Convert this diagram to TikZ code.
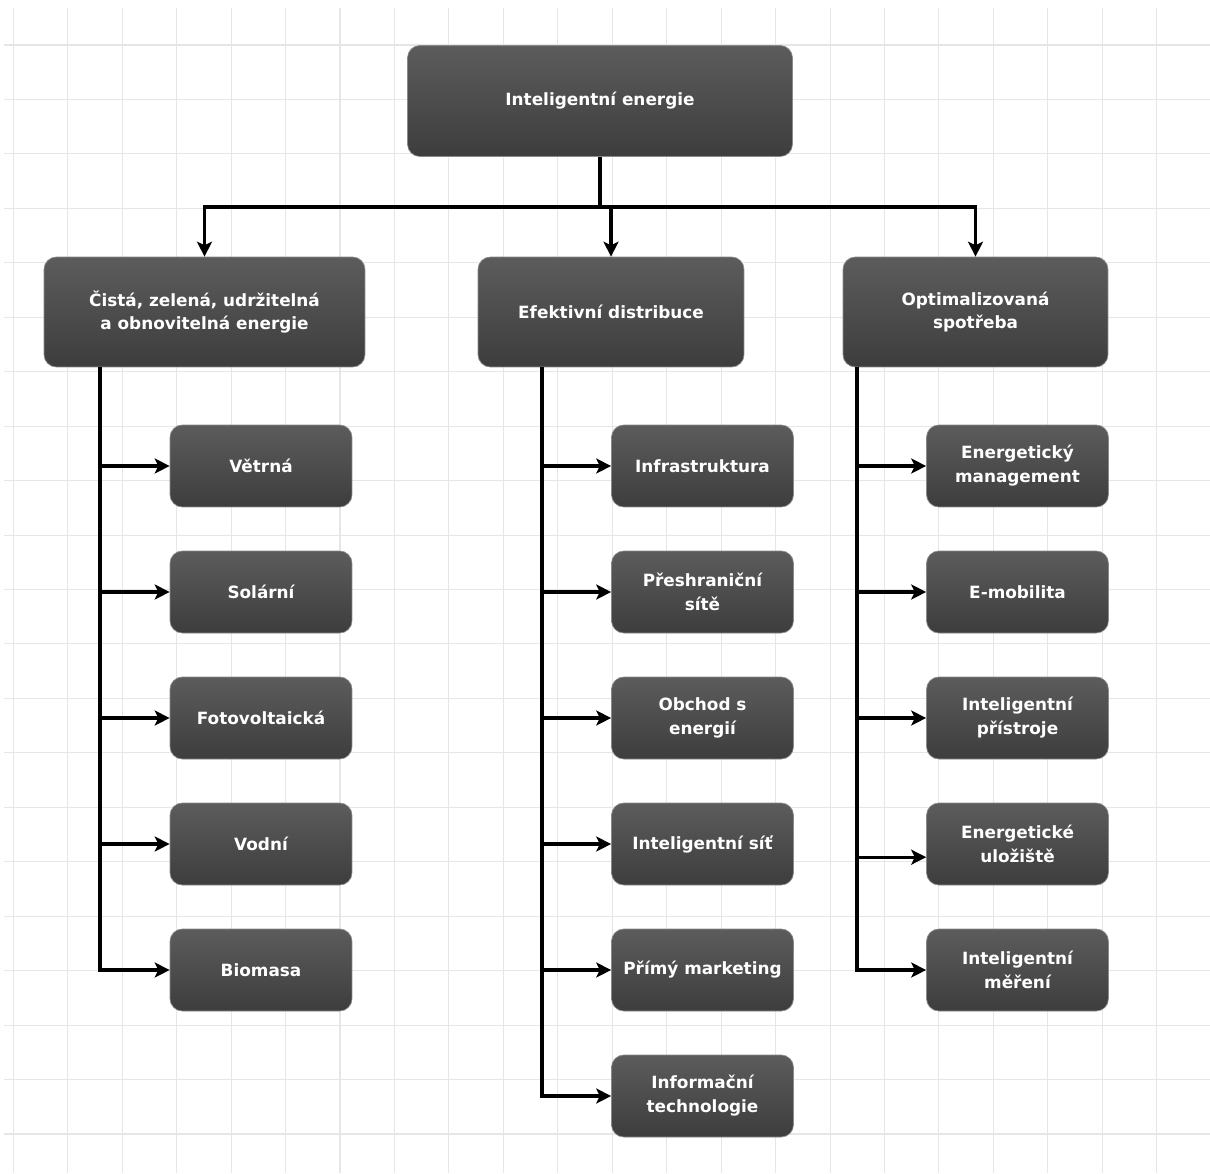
\documentclass[tikz,border=0pt]{standalone}
\usepackage{fontspec}
\setmainfont{DejaVu Sans}
\usetikzlibrary{arrows.meta}
\definecolor{gridc}{HTML}{E6E6E6}
\definecolor{boxtop}{HTML}{5C5C5C}
\definecolor{boxbot}{HTML}{3D3D3D}
\definecolor{boxedge}{HTML}{8A8A8A}
\tikzset{
  box/.style={rectangle, rounded corners=7pt, top color=boxtop, bottom color=boxbot,
    draw=boxedge, line width=0.4pt, text=white, align=center,
    font=\bfseries\fontsize{9.6}{13.6}\selectfont, inner sep=0pt},
  rootbox/.style={box, minimum width=7.7cm, minimum height=2.22cm},
  headbox/.style={box, minimum height=2.2cm},
  leafbox/.style={box, minimum width=3.64cm, minimum height=1.64cm},
  wire/.style={line width=1.8pt, black},
  arr/.style={wire, -{Stealth[length=8.5pt,width=8.5pt,inset=2pt]}},
}
\begin{document}
\begin{tikzpicture}[x=0.02cm, y=-0.02cm]
  % canvas and background grid
  \fill[white] (0,0) rectangle (1210,1173);
  \useasboundingbox (0,0) rectangle (1210,1173);
  \foreach \i in {0,...,21} {
    \draw[gridc, line width=0.6pt] ({13.3+54.45*\i},8) -- ({13.3+54.45*\i},1173);
  }
  \foreach \j in {0,...,20} {
    \draw[gridc, line width=0.6pt] (4,{45+54.45*\j}) -- (1210,{45+54.45*\j});
  }

  % top level
  \node[rootbox] (root) at (600,101) {Inteligentní energie};

  % second level
  \node[headbox, minimum width=6.42cm] (c1) at (204.5,312) {Čistá, zelená, udržitelná\\a obnovitelná energie};
  \node[headbox, minimum width=5.32cm] (c2) at (611,312) {Efektivní distribuce};
  \node[headbox, minimum width=5.3cm] (c3) at (975.5,312) {Optimalizovaná\\spotřeba};

  \coordinate (bus) at (600,207);
  \draw[wire] (root.south) -- (bus);
  \draw[arr] (bus) -| (c1.north);
  \draw[arr] (bus) -| (c2.north);
  \draw[arr] (bus) -| (c3.north);

  % first branch
  \node[leafbox] (a1) at (261,466) {Větrná};
  \node[leafbox] (a2) at (261,592) {Solární};
  \node[leafbox] (a3) at (261,718) {Fotovoltaická};
  \node[leafbox] (a4) at (261,844) {Vodní};
  \node[leafbox] (a5) at (261,970) {Biomasa};

  % second branch
  \node[leafbox] (b1) at (702.5,466) {Infrastruktura};
  \node[leafbox] (b2) at (702.5,592) {Přeshraniční\\sítě};
  \node[leafbox] (b3) at (702.5,718) {Obchod s\\energií};
  \node[leafbox] (b4) at (702.5,844) {Inteligentní síť};
  \node[leafbox] (b5) at (702.5,970) {Přímý marketing};
  \node[leafbox] (b6) at (702.5,1096) {Informační\\technologie};

  % third branch
  \node[leafbox] (d1) at (1017.5,466) {Energetický\\management};
  \node[leafbox] (d2) at (1017.5,592) {E-mobilita};
  \node[leafbox] (d3) at (1017.5,718) {Inteligentní\\přístroje};
  \node[leafbox] (d4) at (1017.5,844) {Energetické\\uložiště};
  \node[leafbox] (d5) at (1017.5,970) {Inteligentní\\měření};

  % trunks
  \coordinate (t1) at (100,367);
  \coordinate (t2) at (542,367);
  \coordinate (t3) at (857,367);

  \foreach \n in {a1,a2,a3,a4,a5} { \draw[arr] (t1) |- (\n.west); }
  \foreach \n in {b1,b2,b3,b4,b5,b6} { \draw[arr] (t2) |- (\n.west); }
  \foreach \n in {d1,d2,d3,d5} { \draw[arr] (t3) |- (\n.west); }
  \draw[arr] (t3) |- ([yshift=-7.5pt]d4.west);
\end{tikzpicture}
\end{document}
